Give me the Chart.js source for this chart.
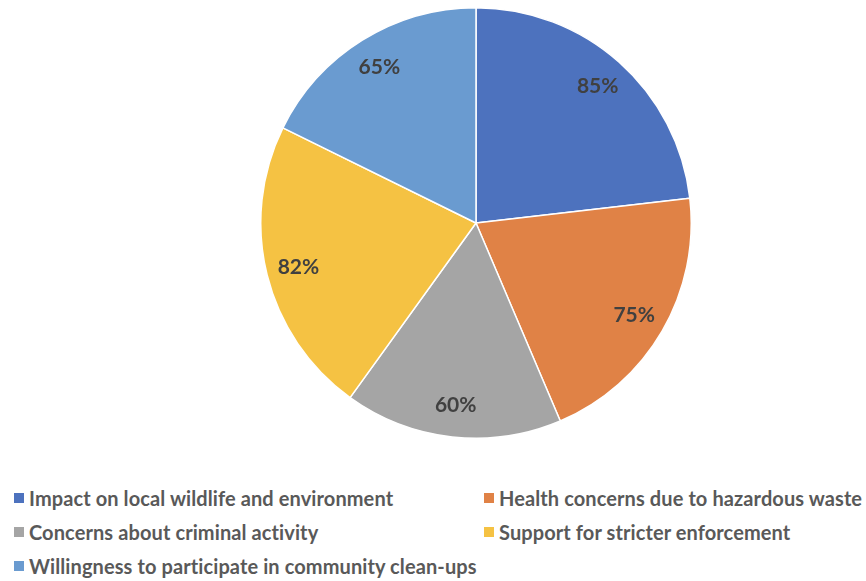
<!DOCTYPE html>
<html>
<head>
<meta charset="utf-8">
<script src="https://cdn.jsdelivr.net/npm/chart.js@4"></script>
<style>
    html, body { margin: 0; padding: 0; background: #fff; }
    body { width: 866px; height: 581px; position: relative; overflow: hidden; font-family: Lato, "Open Sans", sans-serif; }
    #pie { position: absolute; left: 260px; top: 7px; width: 432px; height: 432px; }
    #legend { position: absolute; left: 14px; top: 485px; width: 852px; display: grid; grid-template-columns: 470px 380px; row-gap: 9px; }
    .item { display: flex; align-items: center; font-size: 20px; font-weight: bold; color: #595959; height: 25px; white-space: nowrap; letter-spacing: 0.1px; }
    .box { width: 10px; height: 10px; margin-right: 5px; flex: none; }
</style>
</head>
<body>
<div id="pie"><canvas id="chart"></canvas></div>
<div id="legend"></div>
<script>
    var categories = [
        'Impact on local wildlife and environment',
        'Health concerns due to hazardous waste',
        'Concerns about criminal activity',
        'Support for stricter enforcement',
        'Willingness to participate in community clean-ups'
    ]
    var values = [85, 75, 60, 82, 65]
    var colors = ['#4d72be', '#e08246', '#a5a5a5', '#f5c243', '#6a9bd0']

    // legend, two columns like the original
    var legend = document.getElementById('legend')
    categories.forEach(function(name, i) {
        var item = document.createElement('div')
        item.className = 'item'
        item.innerHTML = '<span class="box" style="background:' + colors[i] + '"></span><span></span>'
        item.lastChild.textContent = name
        legend.appendChild(item)
    })

    // percent labels inside the slices
    var sliceLabels = {
        id: 'sliceLabels',
        afterDatasetsDraw(chart) {
            var ctx = chart.ctx
            var meta = chart.getDatasetMeta(0)
            ctx.save()
            ctx.font = 'bold 21px Lato, sans-serif'
            ctx.fillStyle = '#404040'
            ctx.textAlign = 'center'
            ctx.textBaseline = 'middle'
            meta.data.forEach(function(arc, i) {
                var p = arc.getProps(['x', 'y', 'startAngle', 'endAngle', 'outerRadius'], true)
                var mid = (p.startAngle + p.endAngle) / 2
                var r = p.outerRadius * 0.85
                ctx.fillText(values[i] + '%', p.x + Math.cos(mid) * r, p.y + Math.sin(mid) * r)
            })
            ctx.restore()
        }
    }

    var el = document.getElementById('chart')
    var chart = new Chart(el, {
        type: 'pie',
        data: {
            labels: categories,
            datasets: [
                {
                    data: values,
                    backgroundColor: colors,
                    borderColor: '#ffffff',
                    borderWidth: 1.5
                }
            ]
        },
        options: {
            responsive: true,
            maintainAspectRatio: false,
            animation: false,
            layout: { padding: 0 },
            plugins: {
                legend: { display: false },
                tooltip: { enabled: false }
            }
        },
        plugins: [sliceLabels]
    })
</script>
</body>
</html>
